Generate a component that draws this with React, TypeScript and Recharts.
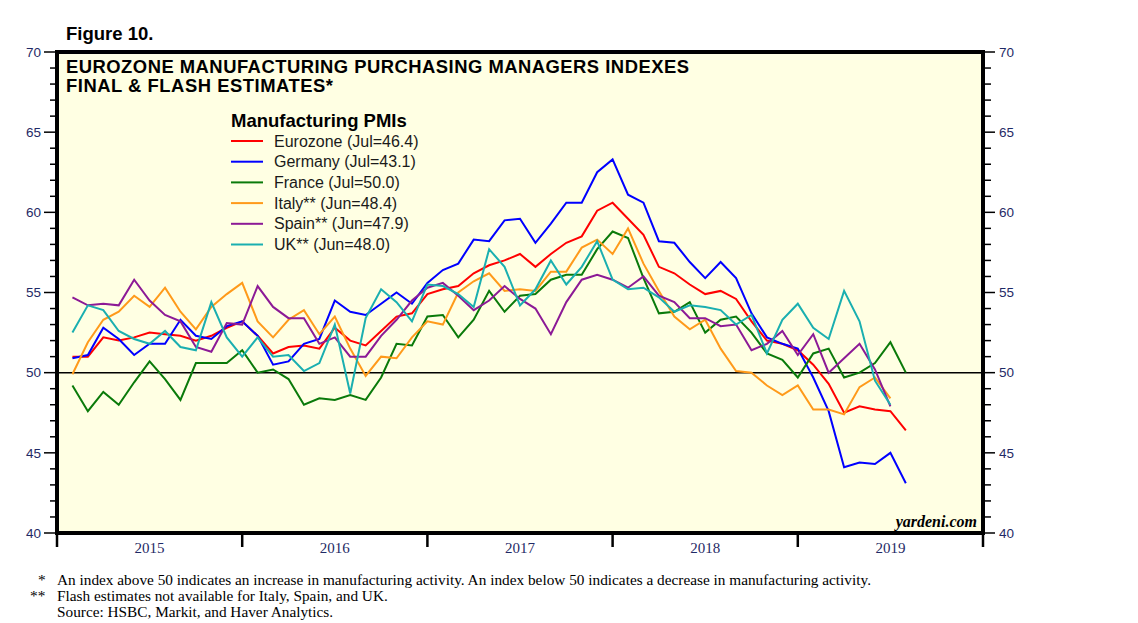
import React from 'react';
import { LineChart, Line, XAxis, YAxis, CartesianGrid, ReferenceLine } from 'recharts';

const YEARS = ['2015', '2016', '2017', '2018', '2019'];
const X_TICKS = [0, 6, 12, 18, 24, 30, 36, 42, 48, 54, 60];
const Y_TICKS = [40, 41, 42, 43, 44, 45, 46, 47, 48, 49, 50, 51, 52, 53, 54, 55, 56, 57, 58, 59, 60, 61, 62, 63, 64, 65, 66, 67, 68, 69, 70];

// Monthly values, Jan 2015 onward
const EUROZONE = [
  51.0, 51.0, 52.2, 52.0, 52.2, 52.5, 52.4, 52.3, 52.0, 52.3, 52.8, 53.2,
  52.3, 51.2, 51.6, 51.7, 51.5, 52.8, 52.0, 51.7, 52.6, 53.5, 53.7, 54.9,
  55.2, 55.4, 56.2, 56.7, 57.0, 57.4, 56.6, 57.4, 58.1, 58.5, 60.1, 60.6,
  59.6, 58.6, 56.6, 56.2, 55.5, 54.9, 55.1, 54.6, 53.2, 52.0, 51.8, 51.4,
  50.5, 49.3, 47.5, 47.9, 47.7, 47.6, 46.4,
];
const GERMANY = [
  50.9, 51.1, 52.8, 52.1, 51.1, 51.8, 51.8, 53.3, 52.3, 52.1, 52.9, 53.2,
  52.3, 50.5, 50.7, 51.8, 52.1, 54.5, 53.8, 53.6, 54.3, 55.0, 54.3, 55.6,
  56.4, 56.8, 58.3, 58.2, 59.5, 59.6, 58.1, 59.3, 60.6, 60.6, 62.5, 63.3,
  61.1, 60.6, 58.2, 58.1, 56.9, 55.9, 56.9, 55.9, 53.7, 52.2, 51.8, 51.5,
  49.7, 47.6, 44.1, 44.4, 44.3, 45.0, 43.1,
];
const FRANCE = [
  49.2, 47.6, 48.8, 48.0, 49.4, 50.7, 49.6, 48.3, 50.6, 50.6, 50.6, 51.4,
  50.0, 50.2, 49.6, 48.0, 48.4, 48.3, 48.6, 48.3, 49.7, 51.8, 51.7, 53.5,
  53.6, 52.2, 53.3, 55.1, 53.8, 54.8, 54.9, 55.8, 56.1, 56.1, 57.7, 58.8,
  58.4, 55.9, 53.7, 53.8, 54.4, 52.5, 53.3, 53.5, 52.5, 51.2, 50.8, 49.7,
  51.2, 51.5, 49.7, 50.0, 50.6, 51.9, 50.0,
];
const ITALY = [
  49.9, 51.9, 53.3, 53.8, 54.8, 54.1, 55.3, 53.8, 52.7, 54.1, 54.9, 55.6,
  53.2, 52.2, 53.3, 53.9, 52.4, 53.5, 51.5, 49.8, 51.0, 50.9, 52.2, 53.2,
  53.0, 55.0, 55.7, 56.2, 55.1, 55.2, 55.1, 56.3, 56.3, 57.8, 58.3, 57.4,
  59.0, 56.8, 55.1, 53.5, 52.7, 53.3, 51.5, 50.1, 50.0, 49.2, 48.6, 49.2,
  47.7, 47.7, 47.4, 49.1, 49.7, 48.4,
];
const SPAIN = [
  54.7, 54.2, 54.3, 54.2, 55.8, 54.5, 53.6, 53.2, 51.6, 51.3, 53.1, 53.0,
  55.4, 54.1, 53.4, 53.4, 51.8, 52.2, 51.0, 51.0, 52.3, 53.3, 54.5, 55.3,
  55.6, 54.8, 53.9, 54.5, 55.4, 54.6, 54.0, 52.4, 54.4, 55.8, 56.1, 55.8,
  55.3, 56.0, 54.8, 54.4, 53.4, 53.4, 52.9, 53.0, 51.4, 51.8, 52.6, 51.1,
  52.4, 50.0, 50.9, 51.8, 50.2, 47.9,
];
const UK = [
  52.5, 54.2, 53.9, 52.6, 52.1, 51.8, 52.6, 51.6, 51.4, 54.4, 52.2, 51.0,
  52.2, 51.0, 51.1, 50.1, 50.6, 53.0, 48.7, 53.4, 55.2, 54.4, 53.2, 55.5,
  55.4, 54.9, 54.1, 57.7, 56.6, 54.2, 55.2, 57.0, 55.5, 56.6, 58.2, 55.8,
  55.2, 55.3, 54.7, 53.8, 54.2, 54.1, 53.9, 53.0, 53.6, 51.2, 53.3, 54.3,
  52.8, 52.1, 55.1, 53.2, 49.5, 48.0,
];

const SERIES = [
  { key: 'eurozone', label: 'Eurozone (Jul=46.4)', color: '#FF0000' },
  { key: 'germany', label: 'Germany (Jul=43.1)', color: '#0000FF' },
  { key: 'france', label: 'France (Jul=50.0)', color: '#0A7A0A' },
  { key: 'italy', label: 'Italy** (Jun=48.4)', color: '#FF9A1A' },
  { key: 'spain', label: 'Spain** (Jun=47.9)', color: '#8C1A96' },
  { key: 'uk', label: 'UK** (Jun=48.0)', color: '#1AAFB0' },
];

const DATA = EUROZONE.map((v, i) => ({
  m: i + 1,
  eurozone: v,
  germany: GERMANY[i],
  france: FRANCE[i],
  italy: ITALY[i] ?? null,
  spain: SPAIN[i] ?? null,
  uk: UK[i] ?? null,
}));

const AXIS_COLOR = '#1F2A66';
const SANS = "'Liberation Sans', Arial, Helvetica, sans-serif";
const SERIF = "'Liberation Serif', 'Times New Roman', serif";

const LeftTick = (props: any) => {
  const { x, y, payload } = props;
  const v = payload.value;
  const major = v % 5 === 0;
  return (
    <g>
      <line x1={x - (major ? 13 : 7)} x2={x} y1={y} y2={y} stroke="#000" strokeWidth={1.5} />
      {major && (
        <text x={x - 16} y={y} dy="0.35em" textAnchor="end" fill={AXIS_COLOR} fontSize={13.5} fontFamily={SANS}>
          {v}
        </text>
      )}
    </g>
  );
};

const RightTick = (props: any) => {
  const { x, y, payload } = props;
  const v = payload.value;
  const major = v % 5 === 0;
  return (
    <g>
      <line x1={x} x2={x + (major ? 12 : 8)} y1={y} y2={y} stroke="#000" strokeWidth={1.5} />
      {major && (
        <text x={x + 16} y={y} dy="0.35em" textAnchor="start" fill={AXIS_COLOR} fontSize={13.5} fontFamily={SANS}>
          {v}
        </text>
      )}
    </g>
  );
};

const XTick = (props: any) => {
  const { x, y, payload } = props;
  const v = payload.value;
  if (v % 12 === 0) {
    return <line x1={x} x2={x} y1={y} y2={y + 14} stroke="#000" strokeWidth={2.5} />;
  }
  const label = YEARS[(v - 6) / 12];
  return (
    <text x={x} y={y + 20} textAnchor="middle" fill={AXIS_COLOR} fontSize={15} fontFamily={SERIF}>
      {label}
    </text>
  );
};

export default function App() {
  return (
    <div style={{ position: 'relative', width: 1138, height: 623, background: '#fff' }}>
      <style>{`body{margin:0;}`}</style>
      <LineChart width={1138} height={623} data={DATA} margin={{ top: 52, right: 95, bottom: 60, left: 0 }}>
        <CartesianGrid yAxisId="left" horizontal={false} vertical={false} fill="#FFFFE3" fillOpacity={1} />
        <XAxis
          dataKey="m"
          type="number"
          domain={[0, 60]}
          ticks={X_TICKS}
          interval={0}
          tick={<XTick />}
          tickLine={false}
          tickSize={0}
          tickMargin={0}
          height={30}
          axisLine={{ stroke: '#000', strokeWidth: 4 }}
          allowDataOverflow
        />
        <YAxis
          yAxisId="left"
          domain={[40, 70]}
          ticks={Y_TICKS}
          interval={0}
          tick={<LeftTick />}
          tickLine={false}
          tickSize={0}
          tickMargin={0}
          width={57}
          allowDataOverflow
          axisLine={{ stroke: '#000', strokeWidth: 4 }}
        />
        <YAxis
          yAxisId="right"
          orientation="right"
          domain={[40, 70]}
          ticks={Y_TICKS}
          interval={0}
          tick={<RightTick />}
          tickLine={false}
          tickSize={0}
          tickMargin={0}
          width={60}
          allowDataOverflow
          axisLine={{ stroke: '#000', strokeWidth: 4 }}
        />
        <ReferenceLine yAxisId="left" y={50} stroke="#000" strokeWidth={1.5} />
        <Line yAxisId="right" dataKey="unused" stroke="none" dot={false} isAnimationActive={false} legendType="none" />
        {SERIES.map((s) => (
          <Line
            key={s.key}
            yAxisId="left"
            type="linear"
            dataKey={s.key}
            stroke={s.color}
            strokeWidth={2}
            dot={false}
            isAnimationActive={false}
            connectNulls={false}
          />
        ))}
      </LineChart>
      <svg width={1138} height={623} style={{ position: 'absolute', left: 0, top: 0, pointerEvents: 'none' }}>
        <rect x={57} y={52} width={926} height={481} fill="none" stroke="#000" strokeWidth={4} />
        <text x={66} y={40} fontFamily={SANS} fontWeight="bold" fontSize={18.5} fill="#000">Figure 10.</text>
        <text x={66} y={73.2} fontFamily={SANS} fontWeight="bold" fontSize={18.4} textLength={623} lengthAdjust="spacing" fill="#000">EUROZONE MANUFACTURING PURCHASING MANAGERS INDEXES</text>
        <text x={66} y={91.8} fontFamily={SANS} fontWeight="bold" fontSize={18.4} textLength={267} lengthAdjust="spacing" fill="#000">FINAL &amp; FLASH ESTIMATES*</text>
        <text x={231} y={127} fontFamily={SANS} fontWeight="bold" fontSize={18.5} fill="#000">Manufacturing PMIs</text>
        {SERIES.map((s, i) => (
          <g key={s.key}>
            <line x1={231} x2={263} y1={141 + i * 20.7} y2={141 + i * 20.7} stroke={s.color} strokeWidth={2} />
            <text x={274} y={146.5 + i * 20.7} fontFamily={SANS} fontSize={16} fill="#1a1a1a">{s.label}</text>
          </g>
        ))}
        <text x={977} y={527} textAnchor="end" fontFamily={SERIF} fontWeight="bold" fontStyle="italic" fontSize={16} fill="#000">yardeni.com</text>
        <text x={38} y={585} fontFamily={SERIF} fontSize={15.3} fill="#000">*</text>
        <text x={57} y={585} fontFamily={SERIF} fontSize={15.3} fill="#000">An index above 50 indicates an increase in manufacturing activity. An index below 50 indicates a decrease in manufacturing activity.</text>
        <text x={30} y={601} fontFamily={SERIF} fontSize={15.3} fill="#000">**</text>
        <text x={57} y={601} fontFamily={SERIF} fontSize={15.3} fill="#000">Flash estimates not available for Italy, Spain, and UK.</text>
        <text x={57} y={616.5} fontFamily={SERIF} fontSize={15.3} fill="#000">Source: HSBC, Markit, and Haver Analytics.</text>
      </svg>
    </div>
  );
}
